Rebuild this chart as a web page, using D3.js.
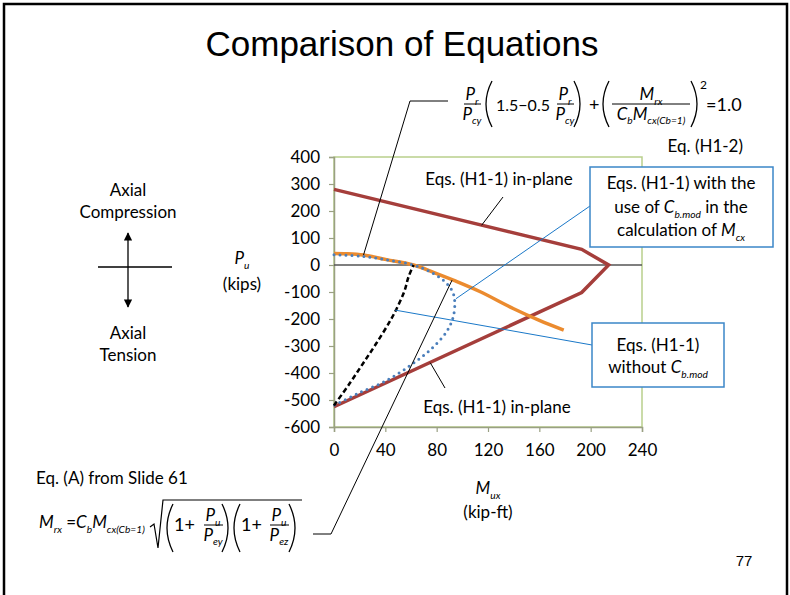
<!DOCTYPE html>
<html><head><meta charset="utf-8">
<script src="https://cdn.jsdelivr.net/npm/d3@7"></script>
<style>
html,body{margin:0;padding:0;background:#fff;}
svg{display:block;font-family:Lato,"Open Sans",sans-serif;}
</style></head>
<body>
<svg id="c" width="790" height="595"></svg>
<script>
// ---------- data ----------
const xTicks = [0, 40, 80, 120, 160, 200, 240];
const yTicks = [400, 300, 200, 100, 0, -100, -200, -300, -400, -500, -600];
// Eqs. (H1-1) in-plane (upper and lower branches)
const inPlaneM = [0, 193, 214, 193, 0];
const inPlaneP = [280, 58, 0, -102, -525];
// Eq. (H1-2)
const h12M = [0, 10, 23, 41, 62, 78, 94, 114, 140, 160, 179];
const h12P = [43, 42, 37, 20, 0, -28, -58, -99, -162, -205, -241];
// Eqs. (H1-1) with C_b.mod
const withM = [0, 20, 40, 62, 75, 86, 92, 94, 93, 88, 76, 60, 40, 18, 0];
const withP = [38, 33, 20, 0, -25, -60, -95, -130, -190, -245, -310, -370, -430, -477, -520];
// Eqs. (H1-1) without C_b.mod
const withoutM = [0, 12, 23, 33, 44, 50, 55, 58, 62];
const withoutP = [-520, -440, -362, -290, -205, -150, -95, -45, 0];

// ---------- layout ----------
const svg = d3.select('#c');
const x = d3.scaleLinear().domain([0, 240]).range([334, 642]);
const y = d3.scaleLinear().domain([-600, 400]).range([427, 157]);
const FONT = 'Lato, "Open Sans", sans-serif';

// page frame
svg.append('path').attr('d', 'M4,598 L4,4 L787,4 L787,598')
  .attr('fill', 'none').attr('stroke', '#000').attr('stroke-width', 2.5);

// title
svg.append('text').attr('x', 402).attr('y', 56).attr('text-anchor', 'middle')
  .attr('font-family', '"Liberation Sans", Arial, sans-serif').attr('font-size', 35)
  .text('Comparison of Equations');

// plot area border
svg.append('rect').attr('x', x(0)).attr('y', y(400))
  .attr('width', x(240) - x(0)).attr('height', y(-600) - y(400))
  .attr('fill', 'none').attr('stroke', '#B9CF8C').attr('stroke-width', 1.5);

// axes
const gy = svg.append('g').attr('transform', `translate(${x(0)},0)`)
  .call(d3.axisLeft(y).tickValues(yTicks).tickSize(5).tickPadding(9).tickFormat(d3.format('d')));
const gx = svg.append('g').attr('transform', `translate(0,${y(-600)})`)
  .call(d3.axisBottom(x).tickValues(xTicks).tickSize(5).tickPadding(12));
[gx, gy].forEach(g => {
  g.selectAll('.domain').attr('stroke', '#9AA083').attr('stroke-width', 1.5);
  g.selectAll('.tick line').attr('stroke', '#9AA083').attr('stroke-width', 1.2);
  g.selectAll('.tick text').attr('font-family', FONT).attr('font-size', 17).attr('fill', '#000');
});
gy.selectAll('.tick text').text(d => d < 0 ? '-' + Math.abs(d) : d);

// zero line
svg.append('line').attr('x1', x(0)).attr('x2', x(240)).attr('y1', y(0)).attr('y2', y(0))
  .attr('stroke', '#555').attr('stroke-width', 1.5);

const zip = (a, b) => a.map((v, i) => [v, b[i]]);
const lin = d3.line().x(d => x(d[0])).y(d => y(d[1]));
const smooth = d3.line().x(d => x(d[0])).y(d => y(d[1])).curve(d3.curveCatmullRom);

svg.append('path').datum(zip(inPlaneM, inPlaneP)).attr('d', lin)
  .attr('fill', 'none').attr('stroke', '#A53E3B').attr('stroke-width', 3.5);
svg.append('path').datum(zip(h12M, h12P)).attr('d', smooth)
  .attr('fill', 'none').attr('stroke', '#EB8B2F').attr('stroke-width', 3.5);
svg.append('path').datum(zip(withM, withP)).attr('d', smooth)
  .attr('fill', 'none').attr('stroke', '#4A7EBB').attr('stroke-width', 3)
  .attr('stroke-linecap', 'round').attr('stroke-dasharray', '0 6');
svg.append('path').datum(zip(withoutM, withoutP)).attr('d', smooth)
  .attr('fill', 'none').attr('stroke', '#000').attr('stroke-width', 2.5).attr('stroke-dasharray', '5 3');

// ---------- text helpers ----------
function mtext(g, px, py, parts, size, anchor) {
  const t = g.append('text').attr('x', px).attr('y', py).attr('font-size', size)
    .attr('font-family', FONT).attr('text-anchor', anchor || 'start');
  let shift = 0;
  parts.forEach(p => {
    const s = t.append('tspan').text(p.t);
    const target = p.sub ? size * 0.28 : (p.sup ? -size * 0.45 : 0);
    s.attr('dy', target - shift); shift = target;
    if (p.sub || p.sup) s.attr('font-size', size * 0.6);
    if (p.i) s.attr('font-style', 'italic');
  });
  return t;
}
function frac(g, cx, by, x1, x2, num, den, size) {
  mtext(g, cx, by - 4, num, size, 'middle');
  g.append('line').attr('x1', x1).attr('x2', x2).attr('y1', by).attr('y2', by)
    .attr('stroke', '#000').attr('stroke-width', 1);
  mtext(g, cx, by + size * 0.92, den, size, 'middle');
}
function paren(g, px, y1, y2, left) {
  const w = 6, m = (y1 + y2) / 2;
  const d = left ? `M${px + w},${y1} Q${px - w},${m} ${px + w},${y2}` : `M${px - w},${y1} Q${px + w},${m} ${px - w},${y2}`;
  g.append('path').attr('d', d).attr('fill', 'none').attr('stroke', '#000').attr('stroke-width', 1.3);
}
const P = (s) => [{t: 'P', i: true}, {t: s, sub: true, i: true}];

// ---------- top equation (H1-2) ----------
const eq = svg.append('g');
frac(eq, 472, 104, 464, 481, P('r'), P('cy'), 17);
paren(eq, 486, 81, 127, true);
mtext(eq, 496, 111, [{t: '1.5\u22120.5'}], 16);
frac(eq, 565, 104, 557, 574, P('r'), P('cy'), 17);
paren(eq, 580, 81, 127, false);
mtext(eq, 589, 111, [{t: '+'}], 18);
paren(eq, 603, 81, 127, true);
frac(eq, 651, 104, 612, 690, [{t: 'M', i: true}, {t: 'rx', sub: true, i: true}],
  [{t: 'C', i: true}, {t: 'b', sub: true, i: true}, {t: 'M', i: true}, {t: 'cx(Cb=1)', sub: true, i: true}], 17);
paren(eq, 697, 81, 127, false);
mtext(eq, 700, 89, [{t: '2'}], 12);
mtext(eq, 706, 111, [{t: '=1.0'}], 18);
mtext(eq, 743, 152, [{t: 'Eq. (H1-2)'}], 17, 'end');

// leader from top equation to H1-2 curve
svg.append('path').attr('d', `M448,101 L410,101 L${x(23)},${y(37)}`)
  .attr('fill', 'none').attr('stroke', '#000').attr('stroke-width', 1);

// ---------- in-plane labels ----------
mtext(svg, 499, 185, [{t: 'Eqs. (H1-1) in-plane'}], 17, 'middle');
svg.append('line').attr('x1', 503).attr('y1', 197).attr('x2', x(115)).attr('y2', y(147))
  .attr('stroke', '#000').attr('stroke-width', 1);
mtext(svg, 497, 413, [{t: 'Eqs. (H1-1) in-plane'}], 17, 'middle');
svg.append('line').attr('x1', 445).attr('y1', 388).attr('x2', x(75)).attr('y2', y(-362))
  .attr('stroke', '#000').attr('stroke-width', 1);

// ---------- callout boxes ----------
const BLUE = '#1A78C8';
svg.append('line').attr('x1', 590).attr('y1', 206).attr('x2', x(95)).attr('y2', y(-125))
  .attr('stroke', BLUE).attr('stroke-width', 1);
svg.append('line').attr('x1', 592).attr('y1', 345).attr('x2', x(47.6)).attr('y2', y(-167))
  .attr('stroke', BLUE).attr('stroke-width', 1);
svg.append('rect').attr('x', 590).attr('y', 167).attr('width', 183).attr('height', 80)
  .attr('fill', '#fff').attr('stroke', '#3B86C8').attr('stroke-width', 1.5);
mtext(svg, 681, 189, [{t: 'Eqs. (H1-1) with the'}], 17, 'middle');
mtext(svg, 681, 213, [{t: 'use of '}, {t: 'C', i: true}, {t: 'b.mod', sub: true, i: true}, {t: ' in the'}], 17, 'middle');
mtext(svg, 681, 236, [{t: 'calculation of '}, {t: 'M', i: true}, {t: 'cx', sub: true, i: true}], 17, 'middle');
svg.append('rect').attr('x', 592).attr('y', 323).attr('width', 132).attr('height', 64)
  .attr('fill', '#fff').attr('stroke', '#3B86C8').attr('stroke-width', 1.5);
mtext(svg, 658, 351, [{t: 'Eqs. (H1-1)'}], 17, 'middle');
mtext(svg, 658, 373, [{t: 'without '}, {t: 'C', i: true}, {t: 'b.mod', sub: true, i: true}], 17, 'middle');

// ---------- left annotations ----------
mtext(svg, 128, 196, [{t: 'Axial'}], 17, 'middle');
mtext(svg, 128, 218, [{t: 'Compression'}], 17, 'middle');
mtext(svg, 128, 339, [{t: 'Axial'}], 17, 'middle');
mtext(svg, 128, 361, [{t: 'Tension'}], 17, 'middle');
svg.append('defs').append('marker').attr('id', 'ah').attr('viewBox', '0 0 10 10')
  .attr('refX', 9).attr('refY', 5).attr('markerWidth', 7.5).attr('markerHeight', 6.5).attr('orient', 'auto-start-reverse')
  .append('path').attr('d', 'M0,0 L10,5 L0,10 z').attr('fill', '#000');
svg.append('line').attr('x1', 128).attr('x2', 128).attr('y1', 233).attr('y2', 307)
  .attr('stroke', '#000').attr('stroke-width', 1.3)
  .attr('marker-start', 'url(#ah)').attr('marker-end', 'url(#ah)');
svg.append('line').attr('x1', 98).attr('x2', 172).attr('y1', 267).attr('y2', 267)
  .attr('stroke', '#000').attr('stroke-width', 1.3);
mtext(svg, 242, 264, [{t: 'P', i: true}, {t: 'u', sub: true, i: true}], 17, 'middle');
mtext(svg, 242, 290, [{t: '(kips)'}], 17, 'middle');

// x axis title
mtext(svg, 488, 494, [{t: 'M', i: true}, {t: 'ux', sub: true, i: true}], 17, 'middle');
mtext(svg, 488, 518, [{t: '(kip-ft)'}], 17, 'middle');

// ---------- bottom equation ----------
mtext(svg, 36, 484, [{t: 'Eq. (A) from Slide 61'}], 17);
const eb = svg.append('g');
mtext(eb, 39, 528, [{t: 'M', i: true}, {t: 'rx', sub: true, i: true}, {t: ' =', i: false},
  {t: 'C', i: true}, {t: 'b', sub: true, i: true}, {t: 'M', i: true}, {t: 'cx(Cb=1)', sub: true, i: true}], 17);
eb.append('path').attr('d', 'M150,527 L154,524 L158,548 L163,500 L302,500')
  .attr('fill', 'none').attr('stroke', '#000').attr('stroke-width', 1.2);
paren(eb, 167, 504, 552, true);
mtext(eb, 174, 531, [{t: '1+'}], 18);
frac(eb, 213, 525, 204, 223, P('u'), P('ey'), 17);
paren(eb, 228, 504, 552, false);
paren(eb, 234, 504, 552, true);
mtext(eb, 241, 531, [{t: '1+'}], 18);
frac(eb, 279, 525, 270, 289, P('u'), P('ez'), 17);
paren(eb, 295, 504, 552, false);
// leader from bottom equation to H1-2 curve
svg.append('path').attr('d', `M313,534 L331,534 L${x(92)},${y(-56)}`)
  .attr('fill', 'none').attr('stroke', '#000').attr('stroke-width', 1);

// slide number
svg.append('text').attr('x', 744).attr('y', 566).attr('text-anchor', 'middle')
  .attr('font-family', '"Liberation Sans", Arial, sans-serif').attr('font-size', 15).text('77');
</script>
</body></html>
